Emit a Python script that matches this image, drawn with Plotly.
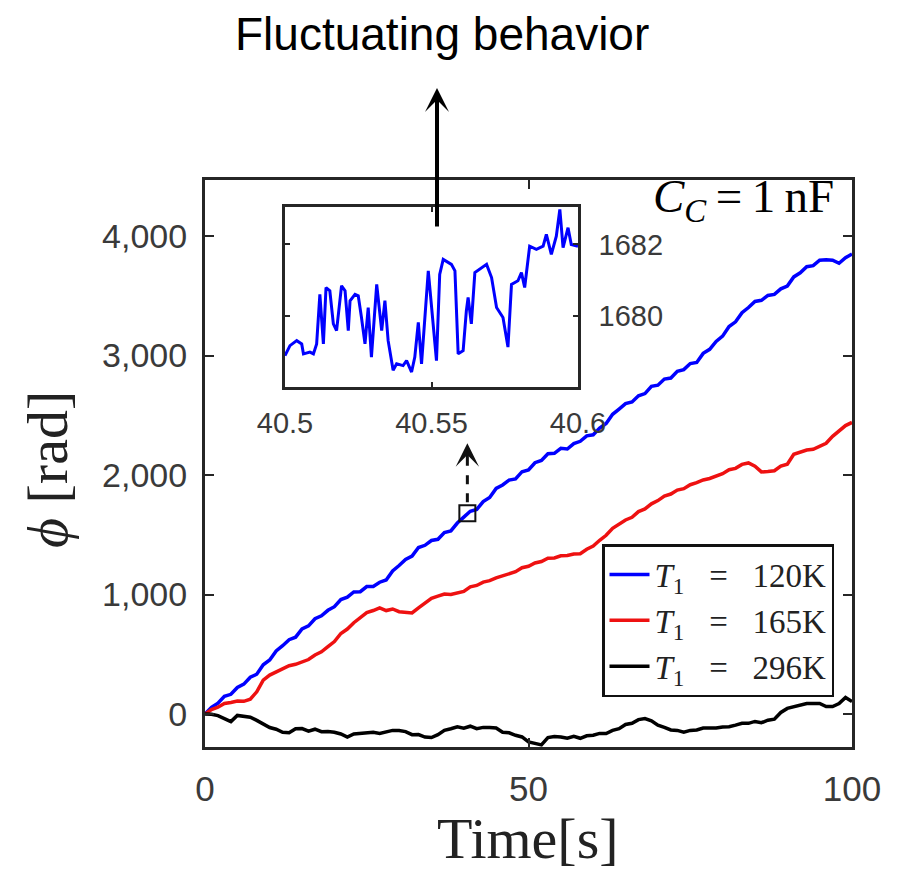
import plotly.graph_objects as go

# ---------------- data ----------------
time_s = list(range(0, 101))

phi_120K = [0, 55, 90, 148, 165, 222, 250, 308, 333, 412,
            452, 528, 572, 622, 643, 712, 738, 797, 822, 868,
            898, 958, 978, 1022, 1024, 1067, 1068, 1103, 1122, 1198,
            1243, 1293, 1322, 1393, 1412, 1452, 1462, 1518, 1532, 1598,
            1648, 1697, 1712, 1778, 1812, 1888, 1917, 1958, 1967, 2028,
            2042, 2103, 2122, 2178, 2182, 2223, 2218, 2263, 2282, 2328,
            2337, 2393, 2432, 2508, 2552, 2598, 2612, 2663, 2682, 2743,
            2752, 2803, 2812, 2868, 2882, 2933, 2942, 3018, 3052, 3118,
            3162, 3243, 3282, 3358, 3402, 3453, 3462, 3503, 3512, 3558,
            3582, 3658, 3692, 3743, 3752, 3798, 3802, 3798, 3772, 3818,
            3850]

phi_165K = [0, 38, 57, 88, 97, 108, 106, 124, 186, 284,
            326, 354, 376, 404, 416, 439, 456, 494, 521, 564,
            606, 674, 711, 764, 806, 849, 866, 889, 866, 879,
            856, 854, 846, 889, 926, 969, 986, 1004, 1001, 1014,
            1026, 1064, 1076, 1104, 1116, 1139, 1156, 1179, 1191, 1224,
            1236, 1264, 1276, 1304, 1306, 1324, 1326, 1339, 1341, 1379,
            1406, 1454, 1496, 1554, 1586, 1624, 1646, 1694, 1716, 1759,
            1786, 1824, 1841, 1874, 1886, 1919, 1936, 1959, 1971, 1994,
            2011, 2044, 2056, 2089, 2101, 2074, 2026, 2029, 2036, 2074,
            2091, 2174, 2191, 2209, 2216, 2239, 2266, 2324, 2366, 2414,
            2440]

phi_296K = [0, -2, -13, -42, -63, -12, -23, -27, -53, -82,
            -113, -127, -153, -157, -123, -122, -143, -127, -148, -147,
            -153, -167, -193, -167, -163, -157, -153, -162, -153, -137,
            -138, -147, -173, -172, -193, -197, -173, -137, -123, -107,
            -118, -102, -123, -112, -113, -117, -153, -157, -178, -192,
            -233, -242, -258, -197, -188, -192, -203, -187, -203, -182,
            -178, -162, -163, -137, -123, -87, -78, -47, -38, -57,
            -93, -112, -133, -137, -153, -137, -133, -117, -118, -117,
            -108, -107, -93, -77, -78, -62, -73, -52, -43, 13,
            47, 63, 72, 88, 87, 88, 62, 63, 87, 138,
            105]

# inset (zoom of the T1 = 120K curve)
inset_t = [40.5, 40.5017, 40.504, 40.5057, 40.5063, 40.5085, 40.5097, 40.5108,
           40.5119, 40.5131, 40.514, 40.5153, 40.5165, 40.5176, 40.5193, 40.5205,
           40.5216, 40.5222, 40.5239, 40.525, 40.5261, 40.5273, 40.5284, 40.5295,
           40.5313, 40.533, 40.5341, 40.5352, 40.5369, 40.5381, 40.5403, 40.5415,
           40.5432, 40.5443, 40.5455, 40.5466, 40.5489, 40.5506, 40.5517, 40.5528,
           40.554, 40.5568, 40.558, 40.5591, 40.5608, 40.5619, 40.5625, 40.5636,
           40.5648, 40.5688, 40.5705, 40.5722, 40.5744, 40.5761, 40.5773, 40.5795,
           40.5807, 40.5818, 40.5835, 40.5858, 40.5881, 40.5892, 40.5909, 40.5926,
           40.5938, 40.5943, 40.5949, 40.5966, 40.5977, 40.6]
inset_phi = [1678.88, 1679.16, 1679.30, 1679.21, 1678.93, 1678.98, 1678.93, 1679.21,
             1680.60, 1679.21, 1680.79, 1680.70, 1679.77, 1679.58, 1680.84, 1680.70,
             1679.58, 1680.42, 1680.60, 1680.56, 1679.95, 1679.21, 1680.23, 1678.84,
             1680.88, 1679.58, 1680.42, 1679.30, 1678.47, 1678.65, 1678.60, 1678.74,
             1678.42, 1678.84, 1679.81, 1678.65, 1681.26, 1679.77, 1678.74, 1681.16,
             1681.58, 1681.44, 1681.26, 1678.93, 1679.02, 1680.14, 1680.51, 1679.77,
             1681.21, 1681.44, 1681.07, 1680.23, 1679.95, 1679.12, 1680.88, 1680.98,
             1681.21, 1680.79, 1681.95, 1681.86, 1681.95, 1682.28, 1681.72, 1682.23,
             1682.98, 1682.50, 1681.91, 1682.47, 1682.00, 1681.95]

zoom_point_t = [40.55]
zoom_point_phi = [1680]

NB = "\u00a0"
series_names = [f"<i>T</i><sub>1</sub>{NB*3}={NB*3}120K",
                f"<i>T</i><sub>1</sub>{NB*3}={NB*3}165K",
                f"<i>T</i><sub>1</sub>{NB*3}={NB*3}296K"]
series_colors = ["#0000ff", "#ee1111", "#000000"]

x_ticks = [0, 50, 100]
y_ticks = [0, 1000, 2000, 3000, 4000]
inset_x_ticks = [40.5, 40.55, 40.6]
inset_x_labels = ["40.5", "40.55", "40.6"]
inset_y_ticks = [1680, 1682]

# ---------------- figure ----------------
SANS = "Liberation Sans, Arial, sans-serif"
SERIF = "Liberation Serif, Times New Roman, serif"
AX = "#262626"
TICKC = "#3a3a3a"

fig = go.Figure()
for ys, name, col in zip([phi_120K, phi_165K, phi_296K], series_names, series_colors):
    fig.add_trace(go.Scatter(x=time_s, y=ys, mode="lines", name=name,
                             line=dict(color=col, width=3.5), xaxis="x", yaxis="y"))

fig.add_trace(go.Scatter(x=zoom_point_t, y=zoom_point_phi, mode="markers", showlegend=False,
                         marker=dict(symbol="square-open", size=16,
                                     line=dict(color="#111111", width=2), color="#111111"),
                         xaxis="x", yaxis="y"))

fig.add_trace(go.Scatter(x=inset_t, y=inset_phi, mode="lines", showlegend=False,
                         line=dict(color="#0000ff", width=3), xaxis="x2", yaxis="y2"))

fig.update_layout(
    width=903, height=871,
    margin=dict(l=0, r=0, t=0, b=0, autoexpand=False),
    paper_bgcolor="white", plot_bgcolor="white",
    showlegend=True,
    legend=dict(x=834 / 903, xanchor="right", y=(871 - 697) / 871, yanchor="bottom",
                bgcolor="white", bordercolor="#111111", borderwidth=2.5,
                font=dict(family=SERIF, size=33, color="#222222"),
                tracegroupgap=0, itemwidth=40),
    xaxis=dict(domain=[205 / 903, 852 / 903], range=[0, 100], anchor="y",
               tickvals=x_ticks, ticks="inside", ticklen=9, tickwidth=2, tickcolor=AX,
               showline=True, linecolor=AX, linewidth=3, mirror="ticks",
               showgrid=False, zeroline=False, ticklabelstandoff=9,
               tickfont=dict(family=SANS, size=35, color=TICKC)),
    yaxis=dict(domain=[(871 - 747) / 871, (871 - 180) / 871], range=[-276, 4469], anchor="x",
               tickvals=y_ticks, tickformat=",", ticks="inside", ticklen=9, tickwidth=2,
               tickcolor=AX, showline=True, linecolor=AX, linewidth=3, mirror="ticks",
               showgrid=False, zeroline=False, ticklabelstandoff=8,
               tickfont=dict(family=SANS, size=34, color=TICKC)),
    xaxis2=dict(domain=[285 / 903, 578 / 903], range=[40.5, 40.6], anchor="y2",
                tickvals=inset_x_ticks, ticktext=inset_x_labels, ticks="inside", ticklen=5,
                tickwidth=2, tickcolor=AX, showline=True, linecolor=AX, linewidth=2.5,
                mirror="ticks", showgrid=False, zeroline=False, ticklabelstandoff=8,
                tickfont=dict(family=SANS, size=29, color=TICKC)),
    yaxis2=dict(domain=[(871 - 387) / 871, (871 - 207) / 871], range=[1678.0, 1683.05],
                anchor="x2", side="right",
                tickvals=inset_y_ticks, ticks="inside", ticklen=5, tickwidth=2, tickcolor=AX,
                showline=True, linecolor=AX, linewidth=2.5, mirror="ticks",
                showgrid=False, zeroline=False, ticklabelstandoff=12,
                tickfont=dict(family=SANS, size=29, color=TICKC)),
)

annotations = [
    # header text
    dict(text="Fluctuating behavior", xref="paper", yref="paper", x=442 / 903, y=(871 - 34) / 871,
         xanchor="center", yanchor="middle", showarrow=False,
         font=dict(family=SANS, size=46, color="black")),
    # big arrow pointing to header
    dict(text="", xref="paper", yref="paper", x=437 / 903, y=(871 - 88) / 871,
         ax=0, ay=140, axref="pixel", ayref="pixel", showarrow=True,
         arrowhead=3, arrowwidth=4, arrowsize=1, arrowcolor="black"),
    # capacitance label
    dict(text="<i>C</i><sub><i>C</i></sub>\u2009=\u20091\u2009nF", xref="paper", yref="paper",
         x=836 / 903, y=(871 - 200) / 871, xanchor="right", yanchor="middle", showarrow=False,
         font=dict(family=SERIF, size=47, color="black")),
    # axis titles
    dict(text="Time[s]", xref="paper", yref="paper", x=528 / 903, y=(871 - 838) / 871,
         xanchor="center", yanchor="middle", showarrow=False,
         font=dict(family=SERIF, size=58, color="#222222")),
    dict(text="<i>ϕ</i> [rad]", xref="paper", yref="paper", x=48 / 903, y=(871 - 470) / 871,
         xanchor="center", yanchor="middle", showarrow=False, textangle=-90,
         font=dict(family=SERIF, size=58, color="#222222")),
    # arrowhead above the zoom box
    dict(text="", xref="x", yref="y", x=zoom_point_t[0], y=zoom_point_phi[0], yshift=70,
         ax=0, ay=24, axref="pixel", ayref="pixel", showarrow=True,
         arrowhead=3, arrowwidth=3, arrowsize=1.3, arrowcolor="#111111"),
]
fig.update_layout(annotations=annotations)

fig.add_shape(type="line", xref="x", yref="y", xsizemode="pixel", ysizemode="pixel",
              xanchor=zoom_point_t[0], yanchor=zoom_point_phi[0],
              x0=0, x1=0, y0=11, y1=44,
              line=dict(color="#111111", width=3, dash="dash"))

fig.write_html("out.html")
